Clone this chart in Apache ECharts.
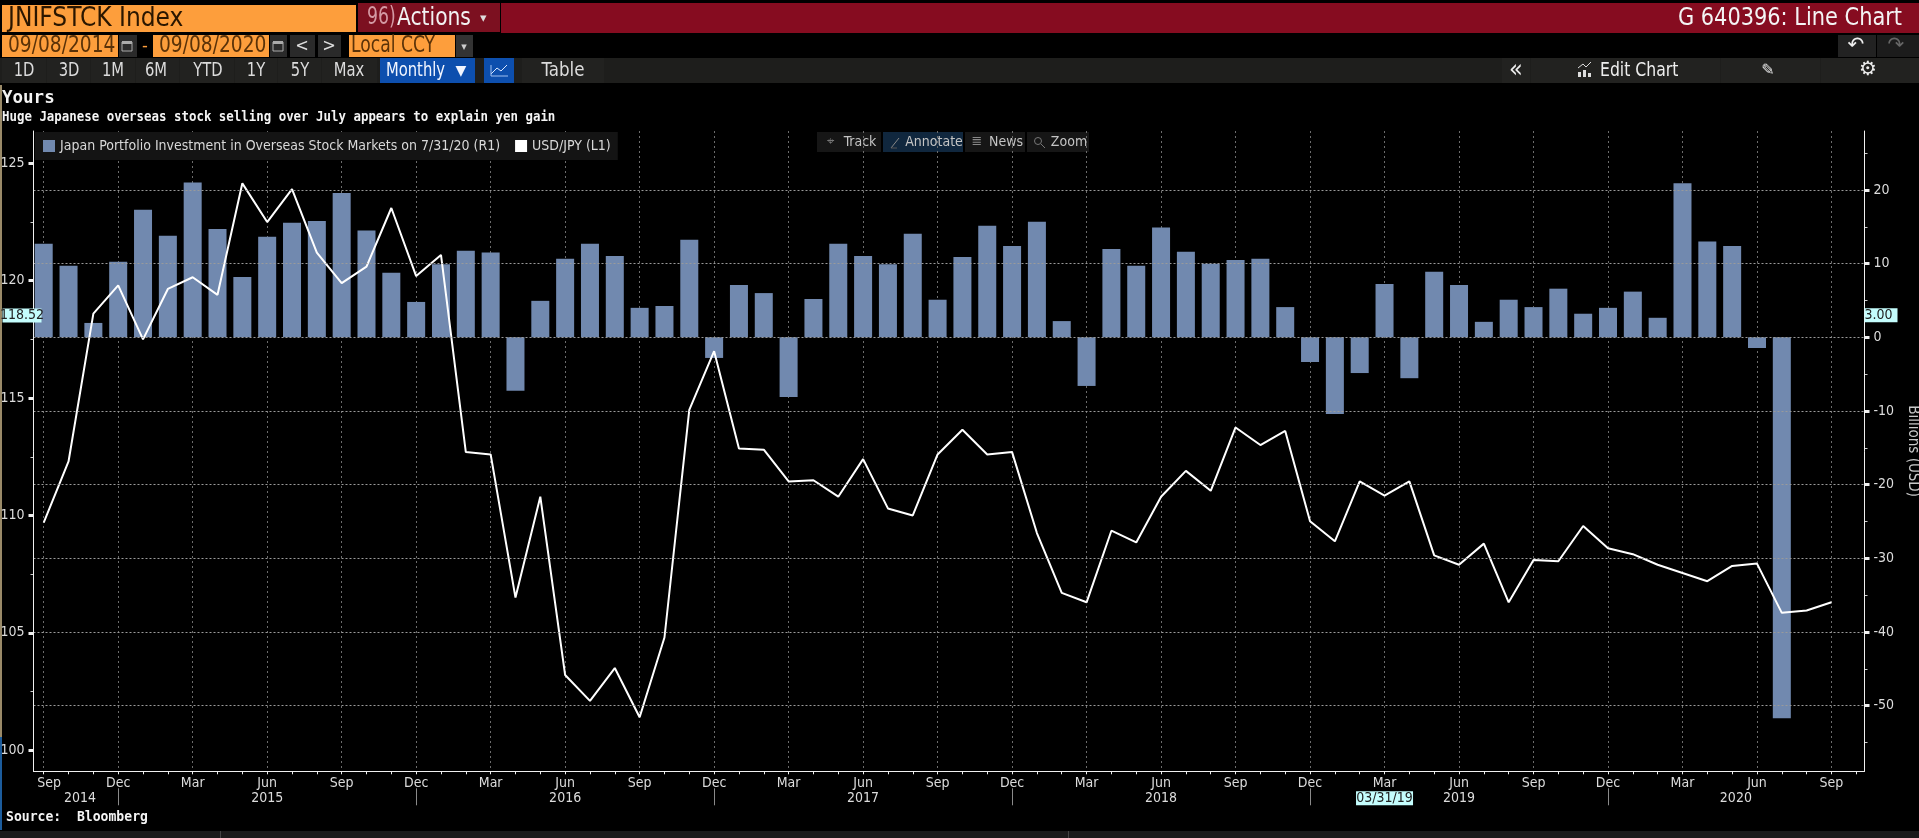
<!DOCTYPE html>
<html><head><meta charset="utf-8">
<style>html,body{margin:0;padding:0;background:#000;overflow:hidden}#c{width:1919px;height:838px}</style>
<script src="https://cdn.jsdelivr.net/npm/echarts@6/dist/echarts.min.js"></script>
</head><body><div id="c"></div>
<script>
// month index 0 = Sep 2014
const investment = [12.7,9.7,1.95,10.25,17.3,13.8,21.0,14.7,8.2,13.65,15.55,15.8,19.6,14.5,8.75,4.8,9.9,11.75,11.5,-7.25,4.95,10.65,12.7,11.05,4.0,4.25,13.25,-2.8,7.1,6.0,-8.1,5.2,12.7,11.05,9.9,14.05,5.1,10.9,15.15,12.4,15.7,2.2,-6.6,12.0,9.7,14.9,11.6,10.0,10.5,10.65,4.1,-3.35,-10.4,-4.85,7.25,-5.55,8.9,7.1,2.1,5.1,4.1,6.6,3.2,4.0,6.2,2.65,20.9,13.0,12.4,-1.45,-51.7];
const usdjpy = [109.7,112.3,118.6,119.8,117.5,119.65,120.15,119.4,124.15,122.5,123.9,121.2,119.9,120.6,123.1,120.2,121.1,112.7,112.6,106.5,110.8,103.2,102.1,103.5,101.4,104.8,114.5,117.0,112.85,112.8,111.45,111.5,110.8,112.4,110.3,110.0,112.6,113.65,112.6,112.7,109.25,106.7,106.3,109.35,108.85,110.8,111.9,111.05,113.75,113.0,113.6,109.75,108.9,111.45,110.85,111.45,108.3,107.9,108.8,106.3,108.1,108.05,109.55,108.6,108.35,107.9,107.55,107.2,107.85,107.95,105.85,105.95,106.3];
const quarterNames = ['Sep','Dec','Mar','Jun','Sep','Dec','Mar','Jun','Sep','Dec','Mar','Jun','Sep','Dec','Mar','Jun','Sep','Dec','Mar','Jun','Sep','Dec','Mar','Jun','Sep'];
const quarterIndex = [0,3,6,9,12,15,18,21,24,27,30,33,36,39,42,45,48,51,54,57,60,63,66,69,72];
const monthTicks = [0,1,2,3,4,5,6,7,8,9,10,11,12,13,14,15,16,17,18,19,20,21,22,23,24,25,26,27,28,29,30,31,32,33,34,35,36,37,38,39,40,41,42,43,44,45,46,47,48,49,50,51,52,53,54,55,56,57,58,59,60,61,62,63,64,65,66,67,68,69,70,71,72,73];
const yearLabels = {1.46:'2014',9:'2015',21:'2016',33:'2017',45:'2018',57:'2019',68.15:'2020'};
const yearSeparators = [3,15,27,39,51,63];
const cursorDate = {54:'03/31/19'};
const leftMajor = [100,105,110,115,120,125];
const leftMinor = [102.5,107.5,112.5,117.5,122.5];
const rightMajor = [-50,-40,-30,-20,-10,0,10,20];
const rightMinor = [-55,-45,-35,-25,-15,-5,5,15,25];
const lastLeft = 118.52, lastRight = 3.00;
const seriesNames = ['Japan Portfolio Investment in Overseas Stock Markets on 7/31/20 (R1)','USD/JPY (L1)'];

const NARROW = '"DejaVu Sans Condensed","DejaVu Sans",sans-serif';
const MONO = '"DejaVu Sans Mono",monospace';
const XMIN=-0.411, XMAX=73.33, LMIN=99.1, LMAX=126.38, RMIN=-58.9, RMAX=28.0;
const CYAN='#c4fdfd';

const rect=(x,y,w,h,fill)=>({type:'rect',silent:true,shape:{x,y,width:w,height:h},style:{fill}});
const text=(x,y,t,size,fill,align='left',font=NARROW,weight='normal',sx=1)=>({type:'text',silent:true,x,y,scaleX:sx,style:{text:t,fill,font:`${weight} ${size}px ${font}`,align,verticalAlign:'middle'}});
const ntext=(x,y,t,size,fill,sx,align='left')=>text(x,y,t,size,fill,align,NARROW,'normal',sx);
const stroke=(pts,c='#ddd',w=1)=>({type:'polyline',silent:true,shape:{points:pts},style:{stroke:c,fill:null,lineWidth:w}});

const ORANGE='#fd9e3c', DARKTXT='#5a3208', BTN='#222220', RED='#860c20';
const g=[];
// left stripe and bottom strip
g.push(rect(0,85,2,652,'#9a8a68'),rect(0,737,2,93,'#1c5c9c'),rect(0,831,1919,7,'#1a1a1a'),rect(220,831,1,7,'#444'),rect(1068,831,1,7,'#444'));
// title bar
g.push(rect(2,5,354,27,ORANGE),ntext(8,19,'JNIFSTCK Index',26,'#2a1600',1));
g.push(rect(358,3,142,29,'#7c1020'),ntext(367,18,'96)',24,'#d49aa4',.8),ntext(397,18,'Actions',25,'#f2f2f2',.9),text(480,19,'▾',13,'#ddd','left','DejaVu Sans'));
g.push(rect(501,3,1418,30,RED),ntext(1902,18,'G 640396: Line Chart',25,'#f4f4f4',.93,'right'));
// date row
g.push(rect(2,35,116,22,ORANGE),ntext(8,46,'09/08/2014',23,DARKTXT,.9),rect(119,35,18,22,'#2a2a2a'));
g.push(stroke([[122,42],[132,42],[132,51],[122,51],[122,42]],'#aaa'),rect(122,41,10,3,'#aaa'));
g.push(text(145,46,'-',18,ORANGE,'center'));
g.push(rect(153,35,116,22,ORANGE),ntext(159,46,'09/08/2020',23,DARKTXT,.9),rect(270,35,17,22,'#2a2a2a'));
g.push(stroke([[273,42],[283,42],[283,51],[273,51],[273,42]],'#aaa'),rect(273,41,10,3,'#aaa'));
g.push(rect(290,35,25,22,'#2a2a2a'),text(302,46,'<',18,'#ddd','center'),rect(318,35,23,22,'#2a2a2a'),text(329,46,'>',18,'#ddd','center'));
g.push(rect(349,35,106,22,ORANGE),ntext(351,46,'Local CCY',23,DARKTXT,.83),rect(456,35,17,22,'#333'),text(464,47,'▾',11,'#ccc','center','DejaVu Sans'));
g.push(rect(1838,35,38,22,'#222'),text(1856,46,'↶',20,'#eee','center','DejaVu Sans'),rect(1877,35,42,22,'#1c1c1c'),text(1896,46,'↷',20,'#666','center','DejaVu Sans'));
// tool row
g.push(rect(0,58,1919,25,'#1e1e1c'));
[[2,45,'1D',24],[47,44,'3D',69],[91,45,'1M',113],[136,44,'6M',156],[180,55,'YTD',208],[235,43,'1Y',256],[278,44,'5Y',300],[322,56,'Max',349]].forEach(b=>{
  g.push(rect(b[0],58,b[1]-1,25,BTN),ntext(b[3],71,b[2],20,'#dcdcdc',.82,'center'));
});
g.push(rect(380,58,95,25,'#0d4fae'),ntext(386,71,'Monthly',20,'#f2f6ff',.82),text(461,71,'▼',14,'#f2f6ff','center','DejaVu Sans'));
g.push(rect(484,58,30,25,'#0d4fae'),stroke([[491,74],[497,68],[501,71],[507,65]],'#dbe8ff'),stroke([[491,65],[491,76],[508,76]],'#9fc0f0'));
g.push(rect(522,58,82,25,BTN),ntext(563,71,'Table',20,'#dcdcdc',.93,'center'));
g.push(rect(1502,58,28,25,BTN),text(1516,70,'«',25,'#eee','center'));
g.push(rect(1531,58,189,25,BTN),ntext(1600,71,'Edit Chart',20,'#eee',.87));
g.push(stroke([[1578,68],[1583,64],[1586,67],[1591,62]],'#ddd'),rect(1578,72,3,5,'#ddd'),rect(1583,70,3,7,'#ddd'),rect(1588,73,3,4,'#ddd'));
g.push(rect(1721,58,99,25,BTN),text(1768,71,'✎',16,'#e4e4e4','center','DejaVu Sans'));
g.push(rect(1821,58,98,25,BTN),text(1868,70,'⚙',20,'#eee','center','DejaVu Sans'));
// titles
g.push(text(2,98,'Yours',17.5,'#f4f4f4','left',MONO,'bold'));
g.push(text(2,117,'Huge Japanese overseas stock selling over July appears to explain yen gain',13.5,'#f4f4f4','left',MONO,'bold',.92));
g.push(text(6,817,'Source:  Bloomberg',13.5,'#f4f4f4','left',MONO,'bold',.97));
// floating chart tools
[[817,64,'#161616','Track',860],[883,80,'#10273e','Annotate',934],[965,60,'#161616','News',1006],[1027,62,'#161616','Zoom',1069]].forEach(b=>{
  g.push(rect(b[0],132,b[1],20,b[2]),text(b[4],142,b[3],14,'#c4c4c4','center'));
});
g.push(text(830,142,'⌖',13,'#777','center','DejaVu Sans'),stroke([[891,148],[899,138]],'#888'),stroke([[891,148],[897,148]],'#555'),text(977,142,'≣',13,'#888','center','DejaVu Sans'));
g.push({type:'circle',silent:true,shape:{cx:1038,cy:141,r:3.5},style:{stroke:'#777',fill:null}},stroke([[1041,144],[1045,148]],'#777'));

const axisFont={fontFamily:NARROW,fontSize:14,color:'#dcdcdc'};
const fmtOff={axisLine:{show:false,onZero:false},axisTick:{show:false},axisLabel:{show:false},splitLine:{show:false}};
const xBase={type:'value',min:XMIN,max:XMAX,position:'bottom',...fmtOff};
const yL={type:'value',min:LMIN,max:LMAX,position:'left',...fmtOff};
const yR={type:'value',min:RMIN,max:RMAX,position:'right',...fmtOff};
const liner={show:true,onZero:false,lineStyle:{color:'#f0f0f0',width:1}};

const option={
  backgroundColor:'#000',animation:false,
  graphic:{elements:g},
  grid:{left:33.5,right:54.5,top:131,bottom:66.7,containLabel:false,outerBoundsMode:'none'},
  legend:{left:35,top:132,orient:'horizontal',backgroundColor:'#141414',padding:[7,7,7,8],itemGap:15,itemWidth:12,itemHeight:12,icon:'rect',
    textStyle:{fontFamily:NARROW,fontSize:14,color:'#d8d8d8'},
    data:[{name:seriesNames[0],itemStyle:{color:'#7189af'}},{name:seriesNames[1],itemStyle:{color:'#fff'}}],selectedMode:false,z:20},
  xAxis:[
    {...xBase,axisLine:liner,
     axisTick:{show:true,inside:false,length:3,customValues:monthTicks,lineStyle:{color:'#f0f0f0'}},
     axisLabel:{show:true,customValues:quarterIndex,margin:5,...axisFont,
       formatter:v=>v===0?`{p|${quarterNames[0]}}`:(quarterNames[quarterIndex.indexOf(v)]||''),
       rich:{p:{...axisFont,padding:[0,0,0,11]}}}},
    {...xBase,axisTick:{show:false,customValues:quarterIndex},splitLine:{show:true,lineStyle:{color:'#6c6c6c',type:[2,3],width:1}}},
    {...xBase,z:8,axisLabel:{show:true,margin:20,...axisFont,customValues:[...Object.keys(yearLabels).map(Number),...Object.keys(cursorDate).map(Number)],
      formatter:v=>cursorDate[v]?`{c|${cursorDate[v]}}`:yearLabels[v],
      rich:{c:{backgroundColor:CYAN,color:'#222',fontFamily:NARROW,fontSize:14,width:57,height:14,align:'center'}}}},
    {...xBase,offset:17,axisTick:{show:true,length:17,inside:false,customValues:yearSeparators,lineStyle:{color:'#8a8a8a'}}}
  ],
  yAxis:[
    {...yL,z:8,axisLine:liner,
     axisTick:{show:true,length:5,customValues:leftMajor,lineStyle:{color:'#f0f0f0',width:3}},
     axisLabel:{show:true,customValues:leftMajor,margin:9,...axisFont}},
    {...yR,z:8,axisLine:liner,
     axisTick:{show:true,length:5,customValues:rightMajor,lineStyle:{color:'#f0f0f0',width:3}},
     axisLabel:{show:true,customValues:rightMajor,margin:9,...axisFont},
     splitLine:{show:true,lineStyle:{color:'#9a9a9a',type:[2,2],width:1}},
     name:'Billions (USD)',nameLocation:'middle',nameRotate:-90,nameGap:33,nameTextStyle:{fontFamily:NARROW,fontSize:15,color:'#c8c8c8'}},
    {...yL,axisTick:{show:true,length:3,customValues:leftMinor,lineStyle:{color:'#cfcfcf'}}},
    {...yR,axisTick:{show:true,length:3,customValues:rightMinor,lineStyle:{color:'#cfcfcf'}}},
    {...yL,z:9,axisLabel:{show:true,customValues:[lastLeft],margin:-8,formatter:v=>`{c|${v.toFixed(2)}}`,
      rich:{c:{backgroundColor:CYAN,color:'#222',fontFamily:NARROW,fontSize:14,width:39,height:14,align:'center'}}}},
    {...yR,z:9,axisLabel:{show:true,customValues:[lastRight],margin:0,formatter:v=>`{c|${v.toFixed(2)}}`,
      rich:{c:{backgroundColor:CYAN,color:'#222',fontFamily:NARROW,fontSize:14,width:33,height:14,align:'left'}}}}
  ],
  series:[
    {name:seriesNames[0],type:'bar',xAxisIndex:0,yAxisIndex:1,barWidth:18,z:3,silent:true,
     itemStyle:{color:'#7189af'},data:investment.map((v,i)=>[i,v])},
    {name:seriesNames[1],type:'line',xAxisIndex:0,yAxisIndex:0,z:4,silent:true,showSymbol:false,symbol:'none',
     lineStyle:{color:'#fff',width:2},itemStyle:{color:'#fff'},data:usdjpy.map((v,i)=>[i,v])}
  ]
};
echarts.init(document.getElementById('c'),null,{renderer:'canvas'}).setOption(option);
</script></body></html>
